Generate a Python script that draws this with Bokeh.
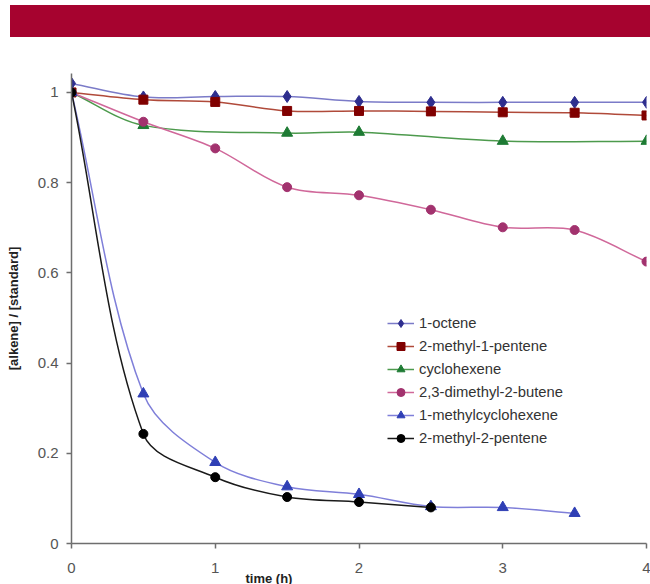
import numpy as np
from bokeh.plotting import figure
from bokeh.models import (Range1d, FixedTicker, NumeralTickFormatter, Legend,
                          LegendItem, Title, ColumnDataSource, Div)
from bokeh.layouts import column
from bokeh.embed import file_html
from bokeh.resources import INLINE

# ---------------- data ----------------
series_names = ["1-octene", "2-methyl-1-pentene", "cyclohexene",
                "2,3-dimethyl-2-butene", "1-methylcyclohexene", "2-methyl-2-pentene"]

octene_t = [0, 0.5, 1, 1.5, 2, 2.5, 3, 3.5, 4]
octene_y = [1.02, 0.99, 0.991, 0.991, 0.98, 0.978, 0.978, 0.978, 0.978]

m1p_t = [0, 0.5, 1, 1.5, 2, 2.5, 3, 3.5, 4]
m1p_y = [1.0, 0.984, 0.979, 0.959, 0.959, 0.958, 0.956, 0.955, 0.949]

chex_t = [0, 0.5, 1.5, 2, 3, 4]
chex_y = [1.0, 0.927, 0.910, 0.912, 0.892, 0.892]

dmb_t = [0, 0.5, 1, 1.5, 2, 2.5, 3, 3.5, 4]
dmb_y = [1.0, 0.935, 0.876, 0.79, 0.772, 0.740, 0.701, 0.695, 0.625]

mch_t = [0, 0.5, 1, 1.5, 2, 2.5, 3, 3.5]
mch_y = [1.0, 0.332, 0.180, 0.126, 0.109, 0.082, 0.080, 0.067]

m2p_t = [0, 0.5, 1, 1.5, 2, 2.5]
m2p_y = [1.0, 0.243, 0.147, 0.103, 0.092, 0.080]

x_ticks = [0, 1, 2, 3, 4]
y_ticks = [0, 0.2, 0.4, 0.6, 0.8, 1.0]

# ---------------- styles ----------------
series = [
    (octene_t, octene_y, "diamond", 12, "#2E2E8E", "#7B7BC8"),
    (m1p_t, m1p_y, "square", 9, "#800000", "#B04A3A"),
    (chex_t, chex_y, "triangle", 11, "#1E7B34", "#4D9A4D"),
    (dmb_t, dmb_y, "circle", 9, "#A2326E", "#D0689A"),
    (mch_t, mch_y, "triangle", 11, "#2F3FB5", "#7F7FD9"),
    (m2p_t, m2p_y, "circle", 9, "#000000", "#1A1A1A"),
]

FONT = "Liberation Sans"
PX_X, PX_Y = 143.75, 451.0   # screen pixels per data unit (for smoothing only)


def smooth_segments(xs, ys):
    """Excel-like smoothed line: cubic Bezier control points through the data,
    tangent lengths weighted by neighbouring segment lengths (screen space)."""
    x = np.asarray(xs, float)
    y = np.asarray(ys, float)
    n = len(x)
    sx, sy = x * PX_X, y * PX_Y
    xp = np.concatenate([[sx[0]], sx, [sx[-1]]])
    yp = np.concatenate([[sy[0]], sy, [sy[-1]]])
    seg = np.hypot(np.diff(xp), np.diff(yp))          # length n+1
    c = dict(x0=[], y0=[], x1=[], y1=[], cx0=[], cy0=[], cx1=[], cy1=[])
    for i in range(n - 1):
        dx, dy = xp[i + 2] - xp[i], yp[i + 2] - yp[i]
        la, lb = seg[i], seg[i + 1]
        f = lb / (la + lb) / 3.0 if la + lb > 0 else 0
        c0x, c0y = sx[i] + dx * f, sy[i] + dy * f
        dx, dy = xp[i + 3] - xp[i + 1], yp[i + 3] - yp[i + 1]
        la, lb = seg[i + 1], seg[i + 2]
        f = la / (la + lb) / 3.0 if la + lb > 0 else 0
        c1x, c1y = sx[i + 1] - dx * f, sy[i + 1] - dy * f
        c["x0"].append(x[i]); c["y0"].append(y[i])
        c["x1"].append(x[i + 1]); c["y1"].append(y[i + 1])
        c["cx0"].append(c0x / PX_X); c["cy0"].append(c0y / PX_Y)
        c["cx1"].append(c1x / PX_X); c["cy1"].append(c1y / PX_Y)
    return c


# ---------------- banner ----------------
banner = Div(text="", width=640, height=32, margin=(5, 0, 0, 10),
             styles={"background-color": "#A6032F"})

# ---------------- main plot ----------------
p = figure(width=650, height=547, toolbar_location=None, output_backend="svg",
           x_range=Range1d(0, 4), y_range=Range1d(0, 1.042),
           min_border_left=71, min_border_right=4, min_border_top=36,
           min_border_bottom=41, outline_line_color=None,
           background_fill_color="white", border_fill_color="white")
p.grid.visible = False

for ax in (p.xaxis[0], p.yaxis[0]):
    ax.axis_line_color = "#6E6E6E"
    ax.axis_line_width = 1.5
    ax.major_tick_line_color = "#6E6E6E"
    ax.major_tick_line_width = 1.5
    ax.major_tick_in = 0
    ax.major_tick_out = 5
    ax.minor_tick_line_color = None
    ax.major_label_text_font = FONT
    ax.major_label_text_font_size = "15px"
    ax.major_label_text_color = "#555555"

p.xaxis.ticker = FixedTicker(ticks=x_ticks)
p.yaxis.ticker = FixedTicker(ticks=y_ticks)
p.xaxis.formatter = NumeralTickFormatter(format="0.[0]")
p.yaxis.formatter = NumeralTickFormatter(format="0.[0]")
p.xaxis.major_label_standoff = 14
p.yaxis.major_label_standoff = 8

p.yaxis.axis_label = "[alkene] / [standard]"
p.yaxis.axis_label_text_font = FONT
p.yaxis.axis_label_text_font_style = "bold"
p.yaxis.axis_label_text_font_size = "13px"
p.yaxis.axis_label_text_color = "#222222"
p.yaxis.axis_label_standoff = 14

p.add_layout(Title(text="time (h)", align="left", offset=174, standoff=-14,
                   text_font=FONT, text_font_style="bold",
                   text_font_size="13px", text_color="#222222"), "below")

items = []
for (t, yv, marker, size, mcol, lcol), name in zip(series, series_names):
    src = ColumnDataSource(smooth_segments(t, yv))
    br = p.bezier(x0="x0", y0="y0", x1="x1", y1="y1", cx0="cx0", cy0="cy0",
                  cx1="cx1", cy1="cy1", source=src, line_color=lcol, line_width=1.5)
    sr = p.scatter(t, yv, marker=marker, size=size, fill_color=mcol,
                   line_color=mcol, line_width=1)
    items.append(LegendItem(label=name, renderers=[br, sr]))

legend = Legend(items=items, location=(316, 95), margin=0, padding=5,
                spacing=3, glyph_width=27, glyph_height=20, label_height=20,
                label_standoff=5, label_text_font=FONT,
                label_text_font_size="14.8px", label_text_color="#333333",
                border_line_color=None, background_fill_color="white",
                background_fill_alpha=1.0)
p.add_layout(legend, "center")

layout = column(banner, p, spacing=0)

with open("out.html", "w") as f:
    f.write(file_html(layout, INLINE))
